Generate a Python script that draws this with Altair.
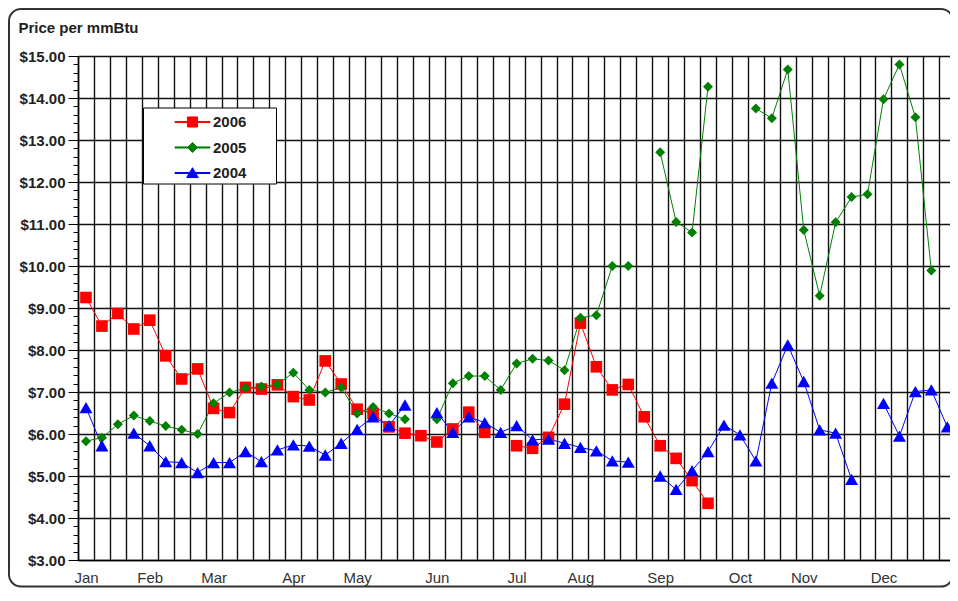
import altair as alt
import pandas as pd

# ---------------- data ----------------
weeks = list(range(55))
years = ["2006", "2005", "2004"]

price_2006 = [9.25, 8.57, 8.87, 8.50, 8.71, 7.86, 7.31, 7.55, 6.61, 6.51,
              7.11, 7.07, 7.17, 6.89, 6.81, 7.74, 7.19, 6.59, 6.49, 6.17,
              6.02, 5.96, 5.81, 6.12, 6.52, 6.04, None, 5.72, 5.66, 5.92,
              6.71, 8.64, 7.60, 7.05, 7.18, 6.41, 5.72, 5.42, 4.89, 4.35,
              None, None, None, None, None, None, None, None, None, None,
              None, None, None, None, None]

price_2005 = [5.83, 5.91, 6.23, 6.44, 6.31, 6.19, 6.10, 6.00, 6.73, 6.99,
              7.09, 7.13, 7.18, 7.46, 7.05, 6.99, 7.11, 6.49, 6.64, 6.49,
              6.35, None, 6.35, 7.21, 7.38, 7.38, 7.05, 7.68, 7.79, 7.75,
              7.52, 8.77, 8.83, 10.00, 10.00, None, 12.71, 11.05, 10.80, 14.27,
              None, None, 13.75, 13.52, 14.68, 10.86, 9.29, 11.04, 11.64, 11.71,
              13.97, 14.80, 13.54, 9.89, None]

price_2004 = [6.63, 5.72, None, 6.02, 5.72, 5.34, 5.32, 5.08, 5.32, 5.32,
              5.58, 5.34, 5.62, 5.74, 5.71, 5.50, 5.78, 6.11, 6.41, 6.20,
              6.69, None, 6.51, 6.04, 6.41, 6.27, 6.04, 6.20, 5.86, 5.88,
              5.78, 5.68, 5.60, 5.36, 5.33, None, 5.00, 4.68, 5.13, 5.58,
              6.21, 5.98, 5.36, 7.21, 8.12, 7.25, 6.10, 6.02, 4.92, None,
              6.73, 5.95, 7.01, 7.05, 6.17]

month_names = ["Jan", "Feb", "Mar", "Apr", "May", "Jun",
               "Jul", "Aug", "Sep", "Oct", "Nov", "Dec"]
month_weeks = [0, 4, 8, 13, 17, 22, 27, 31, 36, 41, 45, 50]

y_min, y_max = 3, 15
colors = ["#ff0000", "#008000", "#0000ff"]
shapes = ["square", "diamond", "triangle-up"]
sizes = [135, 100, 170]

# ---------------- table ----------------
rows = []
for yr, series in zip(years, [price_2006, price_2005, price_2004]):
    seg = 0
    for w, v in zip(weeks, series):
        if v is None:
            seg += 1
            continue
        rows.append({"year": yr, "week": w, "price": v, "seg": f"{yr}-{seg}"})
df = pd.DataFrame(rows)

# ---------------- layout ----------------
W, H = 872, 504
step = 15.95
x_hi = -0.5 + W / step
FONT = "Liberation Sans"

x_vals = sorted([i + 0.5 for i in range(-1, 54)] + list(range(55)))
month_expr = " : ".join(f"datum.value == {w} ? '{m}'"
                        for w, m in zip(month_weeks, month_names)) + " : ''"
y_vals = [round(y_min + 0.2 * k, 1) for k in range(int((y_max - y_min) / 0.2) + 1)]
is_major = "abs(datum.value - round(datum.value)) < 0.01"

x_enc = alt.X(
    "week:Q",
    scale=alt.Scale(domain=[-0.5, x_hi], nice=False, zero=False),
    axis=alt.Axis(
        title=None, values=x_vals, labelExpr=month_expr, ticks=False,
        labelPadding=10, labelFontSize=15, labelFont=FONT, labelColor="#333",
        labelOverlap=False, labelFlush=False, labelBound=False,
        grid=True, gridColor="#111", gridWidth=1.4,
        gridOpacity={"condition": {"test": "datum.value % 1 != 0", "value": 1}, "value": 0},
        domainColor="#000", domainWidth=1.5,
    ),
)

y_enc = alt.Y(
    "price:Q",
    scale=alt.Scale(domain=[y_min, y_max], nice=False, zero=False),
    axis=alt.Axis(
        title="Price per mmBtu", titleAngle=0, titleAlign="left", titleBaseline="middle",
        titleX=-60, titleY=-29, titleFont=FONT, titleFontSize=15, titleFontWeight="bold",
        titleColor="#222",
        values=y_vals, labelExpr=f"{is_major} ? '$' + format(datum.value, '.2f') : ''",
        labelFont=FONT, labelFontSize=15, labelFontWeight="bold", labelColor="#222",
        labelPadding=3, labelOverlap=False, labelFlush=False, labelBound=False,
        tickColor="#000", tickWidth=1,
        tickSize={"condition": {"test": is_major, "value": 10}, "value": 5},
        grid=True, gridColor="#111", gridWidth=1.4,
        gridOpacity={"condition": {"test": is_major, "value": 1}, "value": 0},
        domainColor="#000", domainWidth=1.5,
    ),
)

# legend symbols: line (thin filled bar) with marker, as custom paths
bar = "M-1.46,-0.045H1.46V0.045H-1.46Z"
p_sq = bar + "M-0.42,-0.42H0.42V0.42H-0.42ZM6.57,0"
p_di = bar + "M0,-0.42L0.42,0L0,0.42L-0.42,0ZM6.57,0"
p_tr = bar + "M0,-0.44L0.48,0.38H-0.48ZM6.57,0"
shape_expr = f"datum.label == '{years[0]}' ? '{p_sq}' : datum.label == '{years[1]}' ? '{p_di}' : '{p_tr}'"
color_expr = f"datum.label == '{years[0]}' ? '{colors[0]}' : datum.label == '{years[1]}' ? '{colors[1]}' : '{colors[2]}'"

legend = alt.Legend(
    orient="none", legendX=65, legendY=51.5, title=None,
    padding=2, rowPadding=4.5, symbolSize=576, symbolStrokeWidth=1,
    symbolOffset=35, labelOffset=8,
    symbolType=alt.ExprRef(expr=shape_expr),
    symbolFillColor=alt.ExprRef(expr=color_expr),
    symbolStrokeColor=alt.ExprRef(expr=color_expr),
    symbolOpacity=1,
    labelFont=FONT, labelFontSize=15, labelFontWeight="bold", labelColor="#222",
    fillColor="white", strokeColor="#000",
)

color_scale = alt.Scale(domain=years, range=colors)

layers = []
for yr, c in zip(years, colors):
    sub = df[df["year"] == yr]
    layers.append(
        alt.Chart(sub).mark_line(strokeWidth=1, color=c).encode(
            x=x_enc, y=y_enc, detail="seg:N", order="week:Q"
        )
    )
for yr, s, z in zip(years, shapes, sizes):
    sub = df[df["year"] == yr]
    layers.append(
        alt.Chart(sub).mark_point(filled=True, opacity=1, strokeWidth=0, shape=s, size=z).encode(
            x=x_enc, y=y_enc,
            color=alt.Color("year:N", scale=color_scale, legend=legend, sort=years),
        )
    )

frame = alt.Chart(alt.Data(values=[{"f": 1}])).mark_rect(
    fillOpacity=0, stroke="#333", strokeWidth=2, cornerRadius=12, clip=False
).encode(
    x=alt.value(-69), x2=alt.value(W + 3),
    y=alt.value(-47), y2=alt.value(H + 26.5),
)
layers.append(frame)

chart = alt.layer(*layers).properties(
    width=W, height=H,
    autosize=alt.AutoSizeParams(type="none"),
    padding={"left": 70, "top": 48, "right": 0, "bottom": 28},
    background="white",
).configure_view(strokeWidth=0)

chart.save("out.html", embed_options={"renderer": "svg", "actions": False})
